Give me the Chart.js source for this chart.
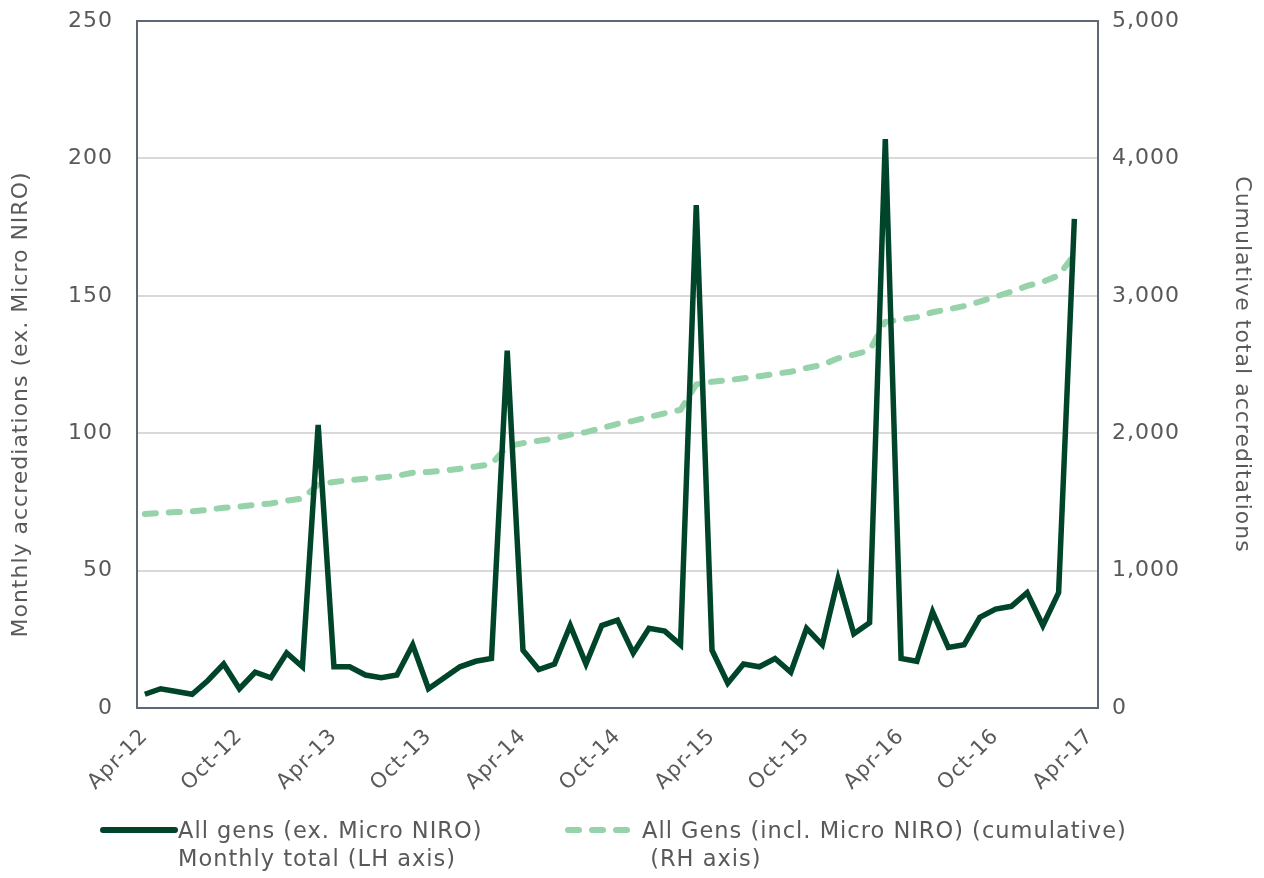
<!DOCTYPE html>
<html>
<head>
<meta charset="utf-8">
<script src="https://cdn.jsdelivr.net/npm/chart.js@4"></script>
<style>
  body { margin: 0; background: #fff; }
  #wrap { position: relative; width: 1264px; height: 878px; }
  #legend { position: absolute; left: 0; top: 0; width: 1264px; height: 878px; pointer-events: none;
            font-family: "DejaVu Sans", Verdana, sans-serif; font-size: 22.5px; letter-spacing: 1px; color: #595959; }
  .item { position: absolute; line-height: 28px; white-space: nowrap; }
  .item svg { position: absolute; }
</style>
</head>
<body>
<div id="wrap">
  <canvas id="chart" width="1264" height="878"></canvas>
  <div id="legend">
    <div class="item" style="left:100px; top:816px;">
      <svg width="78" height="10" style="left:0; top:9px;"><line x1="3" y1="5" x2="75" y2="5" stroke="#00452a" stroke-width="6" stroke-linecap="round"/></svg>
      <div style="margin-left:78px;">All gens (ex. Micro NIRO)<br>Monthly total (LH axis)</div>
    </div>
    <div class="item" style="left:564px; top:816px;">
      <svg width="72" height="10" style="left:0; top:9px;"><line x1="4" y1="5" x2="68" y2="5" stroke="#96d2aa" stroke-width="6" stroke-linecap="round" stroke-dasharray="11 13"/></svg>
      <div style="margin-left:78px;">All Gens (incl. Micro NIRO) (cumulative)<br>&nbsp;(RH axis)</div>
    </div>
  </div>
</div>
<script>
const months = ['Apr-12','May-12','Jun-12','Jul-12','Aug-12','Sep-12','Oct-12','Nov-12','Dec-12','Jan-13','Feb-13','Mar-13',
  'Apr-13','May-13','Jun-13','Jul-13','Aug-13','Sep-13','Oct-13','Nov-13','Dec-13','Jan-14','Feb-14','Mar-14',
  'Apr-14','May-14','Jun-14','Jul-14','Aug-14','Sep-14','Oct-14','Nov-14','Dec-14','Jan-15','Feb-15','Mar-15',
  'Apr-15','May-15','Jun-15','Jul-15','Aug-15','Sep-15','Oct-15','Nov-15','Dec-15','Jan-16','Feb-16','Mar-16',
  'Apr-16','May-16','Jun-16','Jul-16','Aug-16','Sep-16','Oct-16','Nov-16','Dec-16','Jan-17','Feb-17','Mar-17',
  'Apr-17']

const monthly = [5,7,6,5,10,16,7,13,11,20,15,103,
  15,15,12,11,12,23,7,11,15,17,18,130,
  21,14,16,30,16,30,32,20,29,28,23,183,
  21,9,16,15,18,13,29,23,47,27,31,207,
  18,17,35,22,23,33,36,37,42,30,42,178,
  null]

const cumulative = [1412,1420,1426,1432,1442,1458,1465,1478,1489,1509,1524,1627,
  1645,1658,1668,1678,1690,1712,1718,1728,1742,1758,1775,1905,
  1928,1945,1962,1990,2008,2037,2068,2090,2118,2145,2170,2355,
  2375,2385,2400,2415,2432,2447,2475,2497,2545,2572,2603,2810,
  2828,2845,2880,2902,2925,2958,2994,3030,3072,3102,3148,3300,
  null]

const leftTicks = [0, 50, 100, 150, 200, 250]
const rightTicks = [0, 1000, 2000, 3000, 4000, 5000]

const leftTitle = 'Monthly accrediations (ex. Micro NIRO)'

const grey = '#595959'
const frame = '#5d6776'

// wider text like the original, a frame round the plot, and the left title
const plotFrame = {
  id: 'plotFrame',
  beforeUpdate(chart) { chart.ctx.letterSpacing = '1px' },
  beforeDraw(chart) { chart.ctx.letterSpacing = '1px' },
  beforeDatasetsDraw(chart) {
    const a = chart.chartArea
    const ctx = chart.ctx
    ctx.save()
    ctx.strokeStyle = frame
    ctx.lineWidth = 2
    ctx.strokeRect(a.left, a.top, a.right - a.left, a.bottom - a.top)
    ctx.restore()
  },
  afterDraw(chart) {
    const a = chart.chartArea
    const ctx = chart.ctx
    ctx.save()
    ctx.letterSpacing = '1px'
    ctx.fillStyle = grey
    ctx.font = '22px "DejaVu Sans"'
    ctx.textAlign = 'center'
    ctx.textBaseline = 'middle'
    ctx.translate(21, (a.top + a.bottom) / 2 + 40)
    ctx.rotate(-Math.PI / 2)
    ctx.fillText(leftTitle, 0, 0)
    ctx.restore()
  }
}

new Chart(document.getElementById('chart'), {
  type: 'line',
  data: {
    labels: months,
    datasets: [{
      label: 'All gens (ex. Micro NIRO) Monthly total (LH axis)',
      data: monthly,
      borderColor: '#00452a',
      borderWidth: 5.5,
      pointRadius: 0,
      tension: 0,
      yAxisID: 'y',
      order: 1
    }, {
      label: 'All Gens (incl. Micro NIRO) (cumulative) (RH axis)',
      data: cumulative,
      borderColor: '#96d2aa',
      borderWidth: 6,
      borderDash: [11, 13],
      borderCapStyle: 'round',
      pointRadius: 0,
      tension: 0,
      yAxisID: 'y1',
      order: 2
    }]
  },
  options: {
    responsive: false,
    animation: false,
    layout: { padding: { top: 21, bottom: 78, left: 0, right: 0 } },
    plugins: { legend: { display: false }, tooltip: { enabled: false } },
    scales: {
      x: {
        offset: true,
        grid: { display: false, drawTicks: false },
        border: { display: false },
        afterFit(scale) { scale.height = 92 },
        ticks: {
          autoSkip: false,
          minRotation: 45,
          maxRotation: 45,
          padding: 16,
          color: grey,
          font: { family: 'DejaVu Sans', size: 21 },
          callback(v, i) { return i % 6 === 0 ? months[i] : '' }
        }
      },
      y: {
        position: 'left',
        min: 0, max: 250,
        afterFit(scale) { scale.width = 137; scale.paddingTop = 0; scale.paddingBottom = 0 },
        afterBuildTicks(scale) { scale.ticks = leftTicks.map(v => ({ value: v })) },
        grid: { color: '#d9d9d9', lineWidth: 2, drawTicks: false },
        border: { display: false },
        ticks: { padding: 24, color: grey, font: { family: 'DejaVu Sans', size: 22 } }
      },
      y1: {
        position: 'right',
        min: 0, max: 5000,
        afterFit(scale) { scale.width = 166; scale.paddingTop = 0; scale.paddingBottom = 0 },
        afterBuildTicks(scale) { scale.ticks = rightTicks.map(v => ({ value: v })) },
        grid: { display: false, drawTicks: false },
        border: { display: false },
        ticks: {
          padding: 14, color: grey, font: { family: 'DejaVu Sans', size: 22 },
          callback(v) { return v.toLocaleString('en-US') }
        },
        title: {
          display: true,
          text: 'Cumulative total accreditations',
          color: grey,
          padding: { top: 9, bottom: 0 },
          font: { family: 'DejaVu Sans', size: 22 }
        }
      }
    }
  },
  plugins: [plotFrame]
})
</script>
</body>
</html>
